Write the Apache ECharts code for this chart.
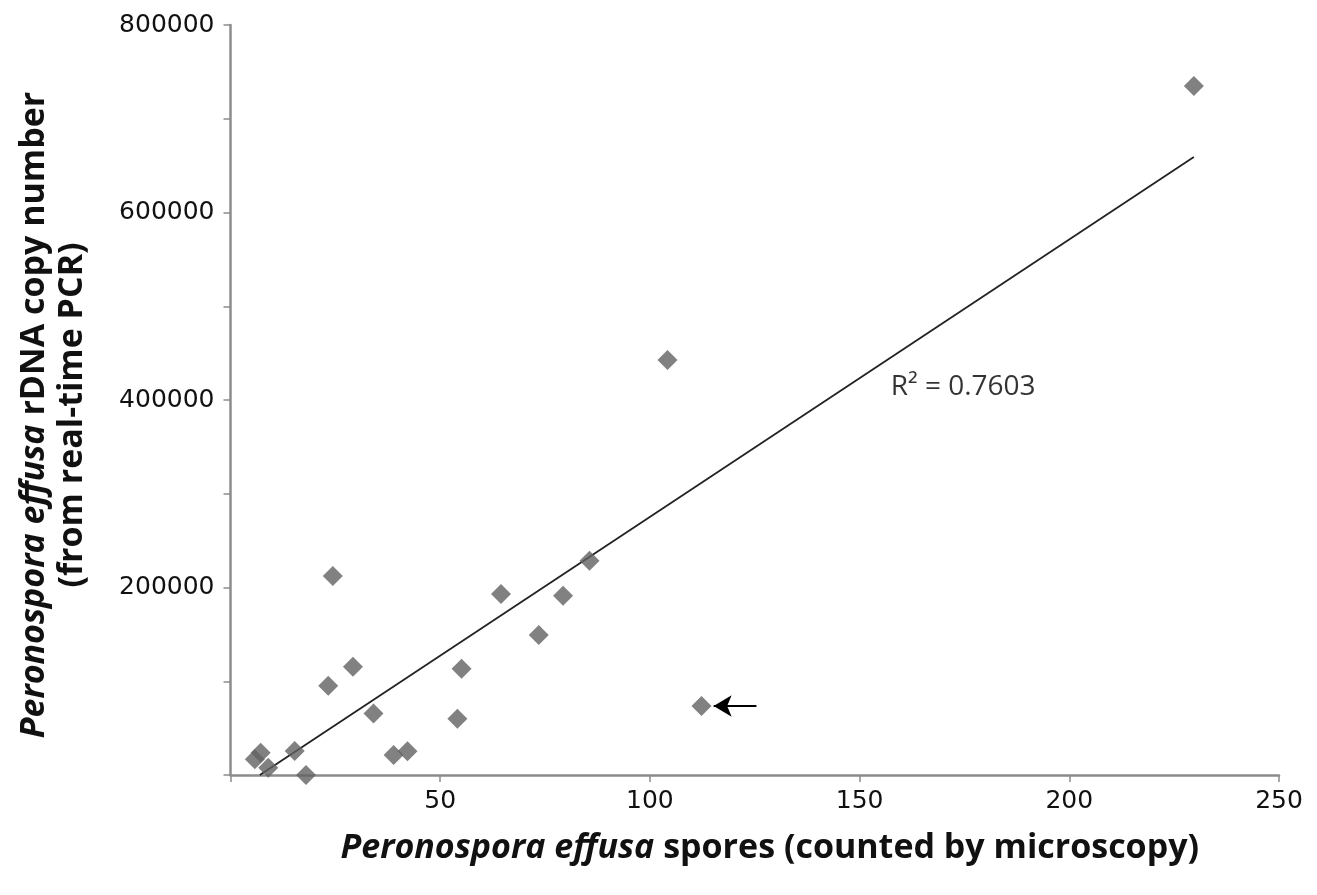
<!DOCTYPE html>
<html>
<head>
<meta charset="utf-8">
<script src="https://cdn.jsdelivr.net/npm/echarts@6/dist/echarts.min.js"></script>
<style>
  html, body { margin: 0; padding: 0; background: #ffffff; }
  #chart { width: 1317px; height: 895px; }
</style>
</head>
<body>
<div id="chart"></div>
<script>
// Spores counted by microscopy (x) and rDNA copy number from real-time PCR (y)
const sporeCounts = [229.7, 104.2, 85.6, 24.4, 64.5, 79.3, 73.5, 29.2, 55.1, 23.3,
                     34.1, 54.1, 112.3, 38.9, 42.2, 15.3, 18.0, 5.8, 7.2, 9.0];
const copyNumbers = [735000, 442700, 228600, 212400, 193000, 191300, 149300, 115500, 113400, 95300,
                     65500, 60100, 73600, 21300, 25300, 25600, 0, 16700, 23800, 7800];
// Linear trendline endpoints (as drawn in the figure)
const trendX = [7.0, 229.7];
const trendY = [0, 659300];
// Annotation: R² label anchor and arrow pointing to the outlier
const r2Text = 'R\u00B2 = 0.7603';
const r2Anchor = [157.4, 413900];
const arrowTip = [115.2, 73600];
const arrowTail = [125.4, 73600];
// Axis ticks
const xTicks = [0, 50, 100, 150, 200, 250];
const yTickStep = 100000;
const yLabelStep = 200000;

const points = sporeCounts.map((x, i) => [x, copyNumbers[i]]);
const trend = trendX.map((x, i) => [x, trendY[i]]);

const labelFont = 'DejaVu Sans';
const titleFont = 'Open Sans';

const chart = echarts.init(document.getElementById('chart'), null, { renderer: 'canvas' });
chart.setOption({
  backgroundColor: '#ffffff',
  animation: false,
  grid: { left: 230.5, right: 38, top: 25, bottom: 120, containLabel: false },
  xAxis: {
    type: 'value',
    min: xTicks[0], max: xTicks[xTicks.length - 1], interval: xTicks[1] - xTicks[0],
    splitLine: { show: false },
    axisLine: { show: true, onZero: false, lineStyle: { color: '#8c8c8c', width: 2.5 } },
    axisTick: { show: true, inside: false, length: 7, lineStyle: { color: '#8c8c8c', width: 1.5 } },
    axisLabel: {
      margin: 14, color: '#111111', fontFamily: labelFont, fontSize: 25,
      formatter: v => (v === 0 ? '' : String(v))
    },
    name: '{i|Peronospora effusa}{b| spores (counted by microscopy)}',
    nameLocation: 'middle', nameGap: 56,
    nameTextStyle: {
      padding: [0, 0, 0, 30],
      rich: {
        i: { fontFamily: titleFont, fontSize: 34, fontWeight: 'bold', fontStyle: 'italic', color: '#111' },
        b: { fontFamily: titleFont, fontSize: 34, fontWeight: 'bold', color: '#111' }
      }
    }
  },
  yAxis: {
    type: 'value',
    min: 0, max: 800000, interval: yTickStep,
    splitLine: { show: false },
    axisLine: { show: true, onZero: false, lineStyle: { color: '#8c8c8c', width: 2.5 } },
    axisTick: { show: true, inside: false, length: 7, lineStyle: { color: '#8c8c8c', width: 1.5 } },
    axisLabel: {
      margin: 16, color: '#111111', fontFamily: labelFont, fontSize: 25,
      formatter: v => (v !== 0 && v % yLabelStep === 0 ? String(v) : '')
    },
    name: '{i|Peronospora effusa}{b| rDNA copy number}\n{b|(from real-time PCR)}',
    nameLocation: 'middle', nameRotate: 90, nameGap: 139,
    nameTextStyle: {
      align: 'center',
      padding: [0, 30, 0, 0],
      rich: {
        i: { fontFamily: titleFont, fontSize: 34, fontWeight: 'bold', fontStyle: 'italic', color: '#111', lineHeight: 38 },
        b: { fontFamily: titleFont, fontSize: 34, fontWeight: 'bold', color: '#111', lineHeight: 38 }
      }
    }
  },
  series: [
    {
      type: 'line',
      data: trend,
      symbol: 'none',
      lineStyle: { color: '#222222', width: 1.8 },
      silent: true,
      z: 2
    },
    {
      type: 'scatter',
      data: points,
      symbol: 'diamond',
      symbolSize: 20,
      itemStyle: { color: '#626262' },
      z: 3,
      markLine: {
        silent: true,
        symbol: ['arrow', 'none'],
        symbolSize: [16, 18],
        label: { show: false },
        lineStyle: { color: '#000000', width: 2.2, type: 'solid' },
        data: [[{ coord: arrowTip }, { coord: arrowTail }]]
      }
    },
    {
      type: 'scatter',
      data: [r2Anchor],
      symbolSize: 0,
      silent: true,
      label: {
        show: true, position: 'right', distance: 0,
        formatter: r2Text,
        fontFamily: 'Open Sans', fontSize: 28, color: '#000000'
      }
    }
  ]
});
</script>
</body>
</html>
